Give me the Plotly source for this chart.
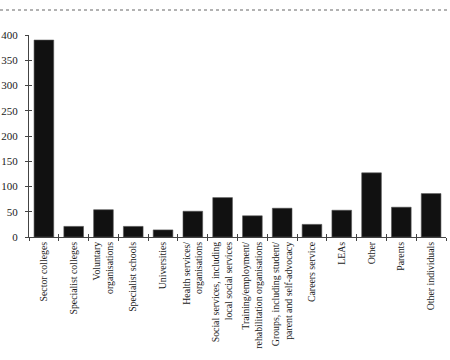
import plotly.graph_objects as go

categories = [
    "Sector colleges",
    "Specialist colleges",
    "Voluntary<br>organisations",
    "Specialist schools",
    "Universities",
    "Health services/<br>organisations",
    "Social services, including<br>local social services",
    "Training/employment/<br>rehabilitation organisations",
    "Groups, including student/<br>parent and self-advocacy",
    "Careers service",
    "LEAs",
    "Other",
    "Parents",
    "Other individuals",
]
values = [390, 21, 54, 21, 14, 51, 78, 42, 57, 25, 53, 127, 59, 86]
y_ticks = [0, 50, 100, 150, 200, 250, 300, 350, 400]

FONT = "Liberation Serif"
TXT = "#1a1a1a"

fig = go.Figure()
fig.add_trace(go.Bar(
    x=list(range(len(categories))),
    y=values,
    marker=dict(color="#111111", line=dict(color="#555555", width=0.6)),
    width=0.66,
    showlegend=False,
    hoverinfo="skip",
))

W, H = 450, 360
ml, mr, mt, mb = 29, 4, 35, 123
pw = W - ml - mr
ph = H - mt - mb

fig.update_layout(
    width=W, height=H,
    margin=dict(l=ml, r=mr, t=mt, b=mb, autoexpand=False),
    paper_bgcolor="white", plot_bgcolor="white",
    font=dict(family=FONT, size=10, color=TXT),
    bargap=0.34,
    xaxis=dict(
        range=[-0.5, len(categories) - 0.5],
        tickmode="array",
        tickvals=list(range(len(categories))),
        ticktext=categories,
        tickangle=-90,
        ticks="",
        showline=True, linecolor="#444444", linewidth=1,
        showgrid=False, zeroline=False,
        automargin=False,
        tickfont=dict(family=FONT, size=9.8, color=TXT),
    ),
    xaxis2=dict(
        overlaying="x", anchor="y",
        range=[-0.5, len(categories) - 0.5],
        tickmode="array",
        tickvals=[i - 0.5 for i in range(len(categories) + 1)],
        showticklabels=False,
        ticks="outside", ticklen=3, tickcolor="#444444", tickwidth=1,
        side="bottom", automargin=False,
        showgrid=False, zeroline=False, showline=False,
    ),
    xaxis3=dict(
        overlaying="x", anchor="y",
        range=[-0.5, len(categories) - 0.5],
        tickmode="array",
        tickvals=[i - 0.5 for i in range(len(categories) + 1)],
        showticklabels=False,
        ticks="inside", ticklen=3, tickcolor="#444444", tickwidth=1,
        side="bottom", automargin=False,
        showgrid=False, zeroline=False, showline=False,
    ),
    yaxis=dict(
        range=[0, 400],
        tickmode="array", tickvals=y_ticks,
        ticks="outside", ticklen=3, tickcolor="#444444", tickwidth=1,
        showline=True, linecolor="#444444", linewidth=1,
        showgrid=False, zeroline=False, automargin=False,
        tickfont=dict(family=FONT, size=11, color=TXT),
        ticklabelstandoff=5,
    ),
    yaxis2=dict(
        overlaying="y", anchor="x",
        range=[0, 400],
        tickmode="array", tickvals=y_ticks,
        ticks="inside", ticklen=3, tickcolor="#444444", tickwidth=1,
        showticklabels=False, automargin=False,
        showgrid=False, zeroline=False, showline=False,
    ),
)

fig.add_trace(go.Scatter(x=[0], y=[0], xaxis="x2", yaxis="y2", mode="markers",
                         marker=dict(opacity=0), showlegend=False, hoverinfo="skip"))
fig.add_trace(go.Scatter(x=[0], y=[0], xaxis="x3", yaxis="y", mode="markers",
                         marker=dict(opacity=0), showlegend=False, hoverinfo="skip"))

y_rule = (H - mb - 10) / ph
fig.add_shape(type="line", xref="paper", yref="paper",
              x0=-ml / pw, x1=(W - ml) / pw, y0=y_rule, y1=y_rule,
              line=dict(color="#999999", width=1.5, dash="dot"))

fig.write_html(
    "out.html",
    config={"displayModeBar": False, "staticPlot": True},
    post_script="document.body.style.margin='0';document.body.style.padding='0';",
)
